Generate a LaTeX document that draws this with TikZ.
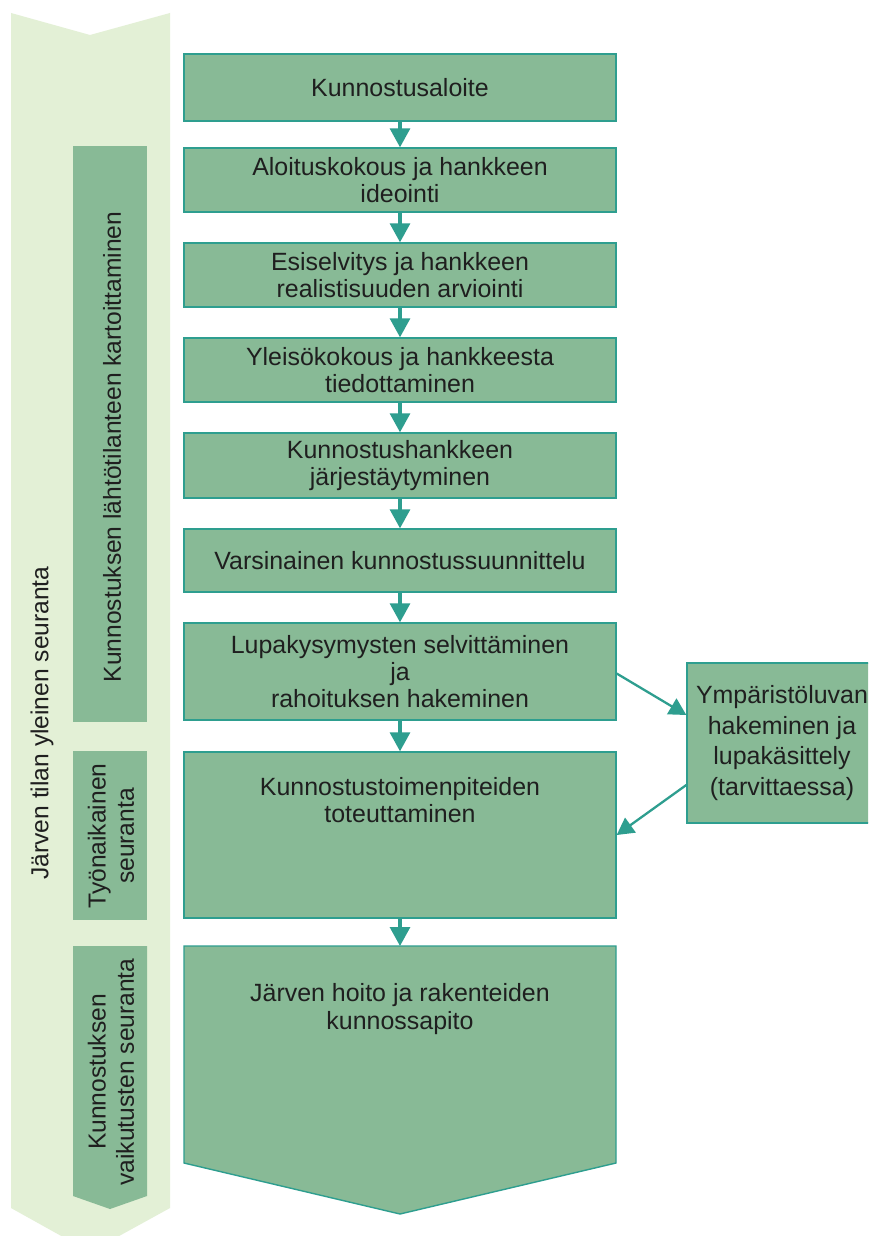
\documentclass[tikz,border=0pt]{standalone}
\usepackage{fontspec}
\setmainfont{Liberation Sans}
\usetikzlibrary{arrows.meta}
\definecolor{vaalea}{HTML}{E3F0D6}
\definecolor{vihrea}{HTML}{88BA96}
\definecolor{turkoosi}{HTML}{2E9E8F}
\tikzset{
  vaihe/.style={draw=turkoosi, fill=vihrea, line width=0.8pt, minimum width=8.64cm,
    inner sep=0pt, align=center, text=black!88, font=\fontsize{14.2}{15.6}\selectfont},
  sivu/.style={rotate=90, align=center, text=black!88, font=\fontsize{14}{16}\selectfont},
  nuoli/.style={draw=turkoosi, line width=1.8pt, -{Triangle[width=0.4cm,length=0.38cm]}},
  vino/.style={draw=turkoosi, line width=1.3pt, -{Triangle[width=0.36cm,length=0.34cm]}},
}
\begin{document}
\begin{tikzpicture}[x=0.02cm,y=-0.02cm]
    \clip (0,0) rectangle (868,1236);
    \fill[white] (0,0) rectangle (868,1236);
    % taustanauha ja palkit
    \fill[vaalea] (11,13) -- (90,35) -- (170,13) -- (170,1208) -- (90,1252) -- (11,1208) -- cycle;
    \fill[vihrea] (73,146) rectangle (147,722);
    \fill[vihrea] (73,751) rectangle (147,920);
    \fill[vihrea] (73,946) -- (147,946) -- (147,1196) -- (110,1209) -- (73,1196) -- cycle;
    \node[sivu] (yleinen) at (42,723) {Järven tilan yleinen seuranta};
    \node[sivu] (kartoitus) at (112,447) {Kunnostuksen lähtötilanteen kartoittaminen};
    \node[sivu] (tyonaikainen) at (111,836) {Työnaikainen\\seuranta};
    \node[sivu] (vaikutukset) at (111,1072) {Kunnostuksen\\vaikutusten seuranta};

    % vaiheet
    \node[vaihe, minimum height=1.34cm] (aloite) at (400,87.5) {Kunnostusaloite};
    \node[vaihe, minimum height=1.28cm] (ideointi) at (400,180) {Aloituskokous ja hankkeen\\ideointi};
    \node[vaihe, minimum height=1.28cm] (esiselvitys) at (400,275) {Esiselvitys ja hankkeen\\realistisuuden arviointi};
    \node[vaihe, minimum height=1.28cm] (yleiskokous) at (400,370) {Yleisökokous ja hankkeesta\\tiedottaminen};
    \node[vaihe, minimum height=1.30cm] (jarjestaytyminen) at (400,465.5) {Kunnostushankkeen\\järjestäytyminen};
    \node[vaihe, minimum height=1.26cm] (suunnittelu) at (400,560.5) {Varsinainen kunnostussuunnittelu};
    \node[vaihe, minimum height=1.94cm] (lupa) at (400,671.5) {Lupakysymysten selvittäminen\\ja\\rahoituksen hakeminen};
    \node[vaihe, minimum height=3.32cm] (toteutus) at (400,835) {};
    \node[align=center, text=black!88, font=\fontsize{14.2}{15.6}\selectfont] (toteutusteksti) at (400,800) {Kunnostustoimenpiteiden\\toteuttaminen};
    \filldraw[fill=vihrea, draw=turkoosi, line width=0.8pt] (184,946) -- (616,946) -- (616,1163) -- (400,1214) -- (184,1163) -- cycle;
    \coordinate (hoitoylä) at (400,946);
    \node[align=center, text=black!88, font=\fontsize{14.2}{15.6}\selectfont] (hoito) at (400,1009) {Järven hoito ja rakenteiden\\kunnossapito};
    \node[vaihe, minimum width=3.8cm, minimum height=3.2cm, font=\fontsize{14.2}{17.6}\selectfont] (ymparisto) at (782,743) {Ympäristöluvan\\hakeminen ja\\lupakäsittely\\(tarvittaessa)};

    % nuolet
    \draw[nuoli] (aloite) -- (ideointi);
    \draw[nuoli] (ideointi) -- (esiselvitys);
    \draw[nuoli] (esiselvitys) -- (yleiskokous);
    \draw[nuoli] (yleiskokous) -- (jarjestaytyminen);
    \draw[nuoli] (jarjestaytyminen) -- (suunnittelu);
    \draw[nuoli] (suunnittelu) -- (lupa);
    \draw[nuoli] (lupa) -- (toteutus);
    \draw[nuoli] (toteutus) -- (hoitoylä);
    \draw[vino] ([yshift=-0.04cm]lupa.east) -- ([yshift=0.56cm]ymparisto.west);
    \draw[vino] ([yshift=-0.84cm]ymparisto.west) -- (toteutus.east);
\end{tikzpicture}
\end{document}
